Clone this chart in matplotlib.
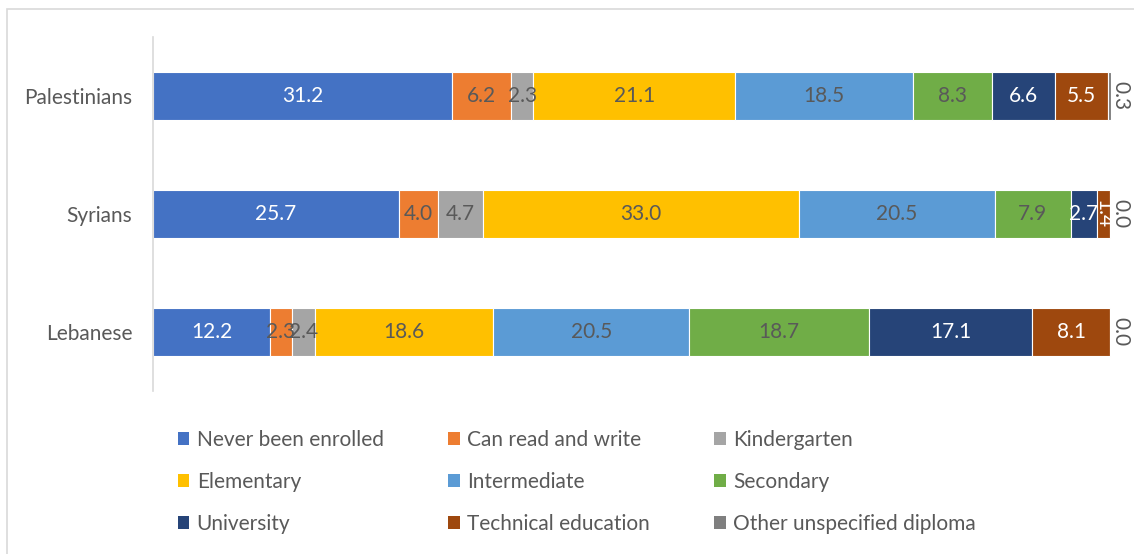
import matplotlib
matplotlib.use("Agg")
import matplotlib.pyplot as plt
from matplotlib.patches import Rectangle, Patch
import numpy as np

groups = ["Lebanese", "Syrians", "Palestinians"]
levels = ["Never been enrolled", "Can read and write", "Kindergarten",
          "Elementary", "Intermediate", "Secondary",
          "University", "Technical education", "Other unspecified diploma"]
# percent per level, order: Lebanese, Syrians, Palestinians
never = [12.2, 25.7, 31.2]
readwrite = [2.3, 4.0, 6.2]
kinder = [2.4, 4.7, 2.3]
elementary = [18.6, 33.0, 21.1]
intermediate = [20.5, 20.5, 18.5]
secondary = [18.7, 7.9, 8.3]
university = [17.1, 2.7, 6.6]
technical = [8.1, 1.4, 5.5]
other = [0.0, 0.0, 0.3]

colors = ["#4472C4", "#ED7D31", "#A5A5A5", "#FFC000", "#5B9BD5",
          "#70AD47", "#264478", "#9E480E", "#7F7F7F"]
label_col = ["white", "#595959", "#595959", "#595959", "#595959",
             "#595959", "white", "white", "#595959"]

plt.rcParams["font.family"] = ["Lato", "DejaVu Sans"]
GRAY = "#595959"
FS = 15

fig = plt.figure(figsize=(11.34, 5.54), dpi=100)
ax = fig.add_axes([153 / 1134, 1 - 391 / 554, 958 / 1134, 354 / 554])
fig.patches.append(Rectangle((7 / 1134, -0.1), 1.2, 1 - 9 / 554 + 0.1,
                             transform=fig.transFigure, fill=False,
                             edgecolor="#D9D9D9", lw=1.2))

series = [never, readwrite, kinder, elementary, intermediate, secondary,
          university, technical, other]
y = np.arange(len(groups))
left = np.zeros(len(groups))
for k, vals in enumerate(series):
    vals = np.array(vals)
    ax.barh(y, vals, 0.4, left=left, color=colors[k], edgecolor="white",
            lw=0.8, label=levels[k])
    for j, v in enumerate(vals):
        cx = left[j] + v / 2
        if k == 8:
            ax.text(100.95, y[j], f"{v:.1f}", rotation=-90, ha="center",
                    va="center", color=GRAY, fontsize=FS)
        elif v < 2:
            ax.text(cx, y[j], f"{v:.1f}", rotation=-90, ha="center",
                    va="center", color=label_col[k], fontsize=FS)
        else:
            ax.text(cx, y[j], f"{v:.1f}", ha="center", va="center",
                    color=label_col[k], fontsize=FS)
    left += vals

ax.set_xlim(0, 100)
ax.set_ylim(-0.5, 2.5)
ax.set_yticks(y)
ax.set_yticklabels(groups, fontsize=FS, color=GRAY)
ax.set_xticks([])
for s in ("top", "right", "bottom"):
    ax.spines[s].set_visible(False)
ax.spines["left"].set_color("#D9D9D9")
ax.spines["left"].set_linewidth(1.2)
ax.tick_params(axis="y", length=0, pad=15)

handles = [Patch(facecolor=c) for c in colors]
order = [0, 3, 6, 1, 4, 7, 2, 5, 8]
fig.legend([handles[i] for i in order], [levels[i] for i in order],
           ncol=3, loc="upper left", bbox_to_anchor=(178 / 1134, 1 - 430 / 554),
           frameon=False, fontsize=FS, labelcolor=GRAY,
           borderpad=0, borderaxespad=0,
           handlelength=0.55, handleheight=0.55, handletextpad=0.35,
           columnspacing=3.1, labelspacing=1.05)

fig.savefig("out.png", dpi=100)
